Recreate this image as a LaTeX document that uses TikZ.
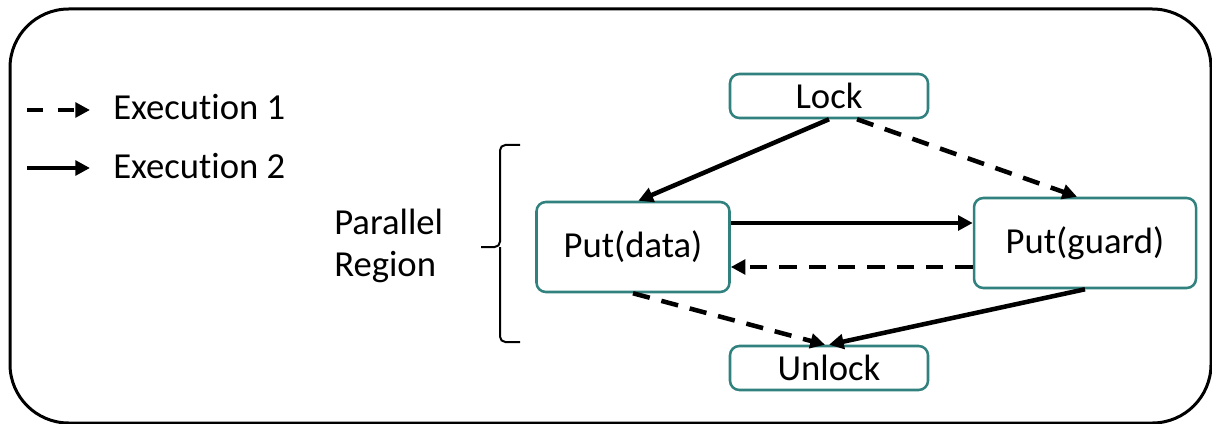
\documentclass[tikz,border=0pt]{standalone}
\usepackage{fontspec}
\setmainfont{Carlito}[Ligatures=NoCommon]
\usetikzlibrary{arrows.meta}
\definecolor{boxteal}{RGB}{49,130,126}
\tikzset{
    opbox/.style={draw=boxteal, line width=1.9pt, rounded corners=7pt, fill=white,
        font=\fontsize{27.5}{32}\selectfont, inner sep=0pt},
    flow/.style={line width=3.4pt, -{Triangle[length=11pt,width=11pt]}},
    flowdash/.style={flow, dash pattern=on 13pt off 9pt},
    lbl/.style={font=\fontsize{27.5}{32}\selectfont, inner sep=0pt, anchor=west}
}
\begin{document}
\begin{tikzpicture}[x=0.75pt, y=-0.75pt]
        \useasboundingbox (0,0) rectangle (1212,424);
        % frame
        \draw[line width=2.25pt, rounded corners=44pt] (10,9) rectangle (1211,423);
        % legend
        \node[lbl] (ex1) at (113,107) {Execution 1};
        \node[lbl] (ex2) at (113,166) {Execution 2};
        \coordinate (l1) at (27,110);
        \coordinate (l2) at (27,168);
        \draw[flowdash, dash pattern=on 12pt off 11pt] (l1) -- (l1 -| 90,0);
        \draw[flow] (l2) -- (l2 -| 90,0);
        % parallel region
        \node[lbl, align=left] (region) at (334,246) {Parallel\\Region};
        \draw[line width=1.5pt, rounded corners=4pt] (520,145) -| (500,247) -- (481,247);
        \draw[line width=1.5pt, rounded corners=4pt] (520,342) -| (500,247);
        % operations
        \node[opbox, minimum width=148.5pt, minimum height=33pt] (lock) at (829,96) {Lock};
        \node[opbox, minimum width=144.75pt, minimum height=67.5pt] (pdata) at (633,247) {Put(data)};
        \node[opbox, minimum width=166.5pt, minimum height=67.5pt] (pguard) at (1085,243) {Put(guard)};
        \node[opbox, minimum width=148.5pt, minimum height=33pt] (unlock) at (829,368) {Unlock};
        % execution 2
        \draw[flow] (lock.south) -- ([xshift=4pt]pdata.north);
        \coordinate (r1) at ([yshift=18pt]pdata.east);
        \draw[flow] (r1) -- (r1 -| pguard.west);
        \draw[flow] (pguard.south) -- (unlock.north);
        % execution 1
        \draw[flowdash] ([xshift=21pt]lock.south) -- ([xshift=-6pt]pguard.north);
        \coordinate (r2) at ([yshift=-15pt]pdata.east);
        \draw[flowdash] (r2 -| pguard.west) -- (r2);
        \draw[flowdash] (pdata.south) -- ([xshift=-3pt]unlock.north);
\end{tikzpicture}
\end{document}
